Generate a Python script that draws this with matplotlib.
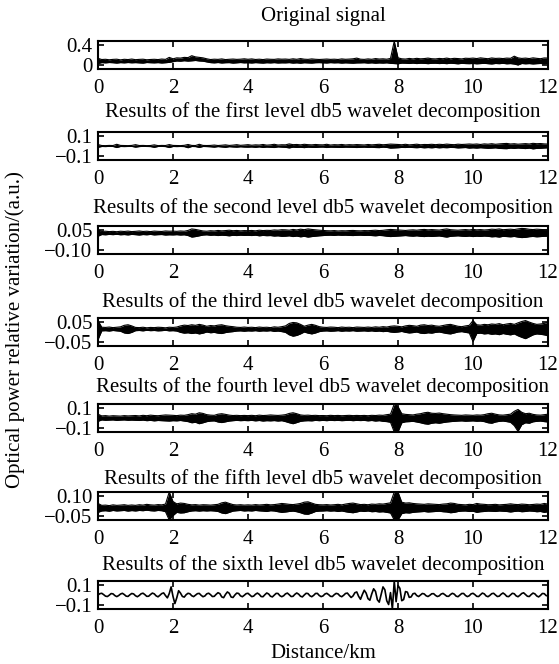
import numpy as np
import matplotlib.pyplot as plt

plt.rcParams['font.family'] = ['Liberation Serif', 'DejaVu Serif']

# distance axis (km)
dist_coarse = np.linspace(0, 12, 121)   # 0.1 km step
dist_fine = np.linspace(0, 12, 241)     # 0.05 km step

titles = ['Original signal',
          'Results of the first level db5 wavelet decomposition',
          'Results of the second level db5 wavelet decomposition',
          'Results of the third level db5 wavelet decomposition',
          'Results of the fourth level db5 wavelet decomposition',
          'Results of the fifth level db5 wavelet decomposition',
          'Results of the sixth level db5 wavelet decomposition']

ytick_vals = [[0, 0.4], [-0.1, 0.1], [-0.10, 0.05], [-0.05, 0.05],
              [-0.1, 0.1], [-0.05, 0.10], [-0.1, 0.1]]
ytick_labels = [['0', '0.4'], ['\u22120.1', '0.1'], ['\u22120.10', '0.05'],
                ['\u22120.05', '0.05'], ['\u22120.1', '0.1'],
                ['\u22120.05', '0.10'], ['\u22120.1', '0.1']]
ylims = [(-0.094, 0.494), (-0.147, 0.147), (-0.135, 0.085), (-0.0735, 0.0735),
         (-0.147, 0.147), (-0.085, 0.135), (-0.147, 0.147)]

# noisy traces read as upper / lower envelope every 0.1 km (units of 0.001)
orig_hi = [130, 105, 110, 100, 108, 112, 98, 110, 104, 115,
           102, 108, 112, 100, 106, 110, 104, 115, 108, 150,
           120, 140, 135, 150, 145, 185, 160, 150, 140, 120,
           105, 112, 108, 118, 104, 110, 115, 108, 112, 120,
           110, 118, 106, 112, 104, 115, 110, 108, 118, 112,
           115, 108, 120, 110, 125, 112, 108, 118, 110, 106,
           110, 115, 108, 112, 106, 118, 110, 114, 120, 135,
           112, 108, 118, 110, 125, 115, 120, 112, 128, 490,
           140, 120, 115, 128, 118, 130, 120, 125, 135, 122,
           118, 128, 122, 135, 120, 130, 125, 118, 132, 128,
           135, 125, 140, 130, 122, 138, 128, 132, 125, 135,
           130, 175, 140, 128, 135, 125, 140, 130, 122, 138,
           135]
orig_lo = [20, 40, 35, 42, 38, 30, 40, 35, 42, 36,
           40, 35, 30, 42, 38, 35, 40, 32, 38, 45,
           60, 75, 70, 80, 72, 78, 85, 75, 70, 55,
           40, 35, 42, 32, 38, 40, 30, 36, 42, 35,
           38, 32, 40, 35, 30, 38, 34, 40, 32, 36,
           35, 40, 30, 36, 28, 38, 34, 30, 38, 40,
           36, 32, 40, 35, 38, 30, 36, 32, 28, 34,
           35, 38, 30, 36, 28, 34, 30, 36, 25, 20,
           15, 30, 28, 22, 30, 20, 28, 25, 18, 26,
           28, 20, 25, 18, 28, 22, 15, 25, 20, 18,
           22, 15, 20, 25, 18, 12, 22, 18, 25, 15,
           20, 10, -10, 22, 15, 20, 12, 18, 22, 15,
           25]

lev1_hi = [15, 5, 4, 6, 5, 18, 6, 5, 4, 6,
           14, 5, 6, 4, 5, 12, 4, 6, 5, 15,
           6, 5, 4, 7, 16, 6, 5, 18, 6, 5,
           6, 10, 5, 8, 12, 6, 9, 14, 7, 10,
           14, 8, 12, 10, 16, 9, 12, 18, 10, 13,
           12, 22, 14, 16, 12, 18, 14, 12, 16, 13,
           12, 18, 10, 14, 12, 16, 11, 14, 12, 15,
           13, 11, 16, 12, 15, 18, 13, 16, 20, 18,
           16, 13, 18, 12, 15, 19, 13, 16, 15, 18,
           14, 18, 15, 20, 16, 14, 19, 16, 18, 21,
           18, 21, 16, 22, 19, 24, 18, 22, 25, 27,
           21, 24, 19, 22, 25, 21, 28, 24, 26, 22,
           20]
lev1_lo = [-14, -5, -6, -4, -5, -16, -5, -6, -5, -4,
           -12, -6, -4, -5, -6, -14, -5, -4, -6, -16,
           -5, -6, -5, -6, -18, -5, -6, -15, -5, -6,
           -8, -12, -6, -10, -14, -7, -10, -12, -8, -11,
           -12, -10, -14, -9, -15, -11, -13, -16, -9, -12,
           -14, -20, -12, -15, -13, -17, -12, -14, -15, -12,
           -11, -16, -12, -13, -14, -15, -12, -13, -14, -16,
           -14, -12, -15, -13, -16, -17, -12, -15, -22, -20,
           -18, -15, -16, -13, -16, -18, -15, -19, -16, -19,
           -15, -19, -16, -18, -15, -16, -20, -18, -16, -22,
           -19, -22, -18, -21, -24, -22, -19, -25, -27, -28,
           -22, -25, -21, -24, -27, -22, -30, -25, -24, -21,
           -19]

lev2_hi = [55, 42, 44, 41, 43, 40, 44, 42, 45, 41,
           43, 46, 42, 44, 41, 45, 43, 42, 46, 44,
           45, 43, 46, 44, 50, 62, 58, 52, 46, 44,
           48, 46, 50, 47, 49, 52, 48, 50, 47, 49,
           48, 50, 47, 52, 49, 51, 50, 54, 52, 56,
           55, 52, 58, 54, 60, 56, 62, 58, 55, 52,
           50, 48, 47, 49, 46, 48, 47, 49, 50, 48,
           47, 49, 48, 50, 52, 49, 51, 55, 58, 56,
           54, 52, 50, 53, 55, 52, 56, 58, 55, 57,
           55, 53, 58, 62, 56, 54, 52, 55, 57, 54,
           58, 55, 57, 54, 56, 60, 58, 62, 56, 58,
           60, 57, 62, 66, 64, 59, 57, 60, 58, 56,
           55]
lev2_lo = [5, 18, 16, 19, 17, 20, 16, 18, 15, 19,
           17, 14, 18, 16, 19, 15, 17, 18, 14, 16,
           15, 17, 14, 16, 10, -2, 2, 8, 14, 16,
           12, 14, 10, 13, 11, 8, 12, 10, 13, 11,
           12, 10, 13, 8, 11, 9, 10, 6, 8, 4,
           5, 8, 2, 6, 0, 4, -2, 2, 5, 8,
           10, 12, 13, 11, 14, 12, 13, 11, 10, 12,
           13, 11, 12, 10, 8, 11, 9, 5, 2, 4,
           6, 8, 10, 7, 5, 8, 4, 2, 5, 3,
           5, 7, 2, -2, 4, 6, 8, 5, 3, 6,
           2, 5, 3, 6, 4, 0, 2, -2, 4, 2,
           0, 3, -2, -6, -4, 1, 3, 0, 2, 4,
           5]

lev3_hi = [60, 25, 24, 26, 23, 25, 27, 35, 38, 32,
           24, 23, 25, 22, 24, 23, 25, 24, 22, 25,
           24, 26, 32, 36, 34, 38, 35, 40, 36, 30,
           34, 32, 36, 38, 33, 30, 28, 25, 24, 26,
           24, 25, 23, 26, 24, 25, 23, 27, 25, 28,
           32, 45, 50, 48, 40, 30, 36, 40, 35, 28,
           25, 24, 26, 25, 23, 26, 24, 25, 23, 26,
           25, 24, 26, 24, 27, 25, 28, 26, 30, 32,
           30, 27, 32, 35, 33, 30, 36, 38, 34, 36,
           32, 30, 34, 38, 40, 35, 30, 28, 32, 35,
           60, 38, 36, 40, 38, 42, 40, 44, 38, 42,
           45, 40, 48, 55, 60, 52, 45, 40, 42, 45,
           50]
lev3_lo = [-40, 6, 7, 5, 8, 6, 4, -5, -8, -2,
           7, 8, 6, 9, 7, 8, 6, 7, 9, 6,
           7, 5, -2, -6, -4, -8, -5, -10, -6, 0,
           -4, -2, -6, -8, -3, 0, 2, 5, 6, 4,
           6, 5, 7, 4, 6, 5, 7, 3, 5, 2,
           -2, -15, -22, -18, -10, 0, -6, -10, -5, 2,
           5, 6, 4, 5, 7, 4, 6, 5, 7, 4,
           5, 6, 4, 6, 3, 5, 2, 4, 0, -2,
           0, 3, -2, -5, -3, 0, -6, -8, -4, -6,
           -2, 0, -4, -8, -10, -5, 0, 2, -2, -5,
           -50, -8, -6, -10, -8, -12, -10, -14, -8, -12,
           -15, -10, -20, -28, -35, -25, -15, -10, -12, -15,
           -20]

lev4_hi = [40, 22, 25, 20, 24, 22, 20, 25, 22, 24,
           26, 22, 28, 24, 30, 26, 24, 28, 32, 30,
           28, 25, 30, 28, 35, 45, 40, 55, 48, 35,
           30, 28, 40, 45, 38, 30, 26, 28, 25, 27,
           25, 28, 24, 30, 26, 28, 32, 29, 27, 30,
           35, 48, 55, 45, 32, 28, 30, 26, 28, 25,
           26, 24, 28, 25, 27, 24, 26, 28, 25, 27,
           25, 27, 24, 28, 26, 30, 28, 35, 40, 147,
           120, 45, 38, 35, 32, 40, 45, 55, 60, 50,
           48, 52, 45, 40, 35, 32, 30, 28, 32, 30,
           28, 32, 30, 35, 45, 50, 40, 32, 30, 35,
           40, 70, 90, 60, 45, 50, 38, 32, 30, 35,
           40]
lev4_lo = [-35, -20, -24, -22, -20, -25, -22, -20, -24, -22,
           -24, -26, -22, -28, -25, -30, -26, -28, -30, -32,
           -28, -30, -26, -32, -38, -50, -45, -60, -50, -38,
           -32, -30, -42, -48, -40, -32, -28, -25, -28, -26,
           -28, -25, -30, -26, -32, -28, -30, -27, -32, -28,
           -38, -50, -60, -48, -35, -30, -28, -30, -25, -28,
           -25, -28, -24, -27, -25, -28, -26, -24, -28, -25,
           -27, -25, -30, -26, -32, -28, -35, -38, -45, -147,
           -147, -50, -40, -38, -35, -42, -50, -60, -65, -55,
           -50, -55, -48, -42, -38, -35, -32, -30, -34, -32,
           -30, -34, -32, -38, -50, -55, -42, -35, -32, -38,
           -45, -80, -140, -70, -50, -55, -40, -35, -32, -38,
           -42]

lev5_hi = [45, 30, 32, 28, 34, 30, 32, 35, 30, 33,
           30, 35, 32, 38, 34, 32, 36, 34, 40, 135,
           60, 42, 48, 45, 38, 34, 36, 32, 35, 34,
           32, 35, 38, 50, 55, 45, 36, 33, 35, 32,
           34, 32, 36, 33, 35, 38, 34, 36, 40, 45,
           42, 38, 36, 40, 45, 55, 58, 48, 38, 35,
           34, 36, 33, 35, 38, 34, 40, 45, 48, 42,
           36, 38, 35, 40, 38, 42, 40, 45, 50, 135,
           135, 55, 48, 50, 45, 42, 40, 38, 42, 40,
           38, 36, 40, 42, 48, 45, 38, 36, 34, 38,
           36, 45, 40, 38, 35, 36, 38, 34, 36, 38,
           42, 38, 36, 40, 38, 35, 37, 40, 38, 45,
           40]
lev5_lo = [-25, -14, -12, -16, -10, -14, -12, -10, -15, -11,
           -14, -10, -12, -8, -12, -14, -10, -12, -20, -85,
           -50, -25, -30, -28, -20, -14, -12, -15, -12, -14,
           -12, -14, -18, -30, -35, -25, -15, -12, -10, -14,
           -12, -14, -10, -13, -15, -18, -12, -14, -20, -25,
           -22, -18, -15, -20, -28, -38, -40, -30, -18, -15,
           -14, -12, -15, -13, -18, -14, -20, -25, -28, -22,
           -15, -18, -14, -20, -18, -22, -20, -25, -30, -85,
           -85, -35, -28, -30, -25, -22, -20, -18, -22, -20,
           -18, -16, -20, -22, -28, -25, -18, -15, -14, -18,
           -16, -25, -20, -18, -15, -16, -18, -14, -16, -18,
           -22, -18, -15, -20, -18, -14, -16, -20, -18, -25,
           -20]

# sixth level is a smooth trace, read every 0.05 km (units of 0.001)
lev6 = [0, 14, 18, 4, -12, -16, -2, 15, 12, -6, -17, -6, 10, 18, 5, -12, -15, 2, 16, 11,
        -8, -18, -5, 13, 19, 4, -14, -13, 5, 20, 12, -9, -19, -3, 15, 22, -6, -30, 15, 85,
        -15, -90, -30, 45, 20, -15, -22, 3, 18, 13, -8, -17, -2, 14, 17, -3, -18, -10, 12, 19,
        4, -16, -14, 7, 24, 14, -20, -28, 6, 32, 18, -21, -26, 0, 20, 16, -9, -18, -3, 14,
        18, 0, -17, -12, 8, 20, 7, -16, -18, 3, 21, 11, -13, -20, -1, 17, 16, -7, -18, -8,
        12, 20, 3, -16, -14, 7, 21, 9, -13, -20, 0, 18, 15, -8, -18, -4, 16, 17, -5, -17,
        -10, 10, 18, 4, -14, -16, 3, 17, 12, -9, -18, -3, 16, 20, -4, -26, -10, 24, 32, -14,
        -45, 6, 50, 20, -38, -55, 12, 65, 38, -50, -75, 6, 85, 55, -60, -100, 25, -147, 147, -70,
        100, 70, -60, -48, 36, 30, -25, -20, 13, 18, -6, -16, 0, 16, 11, -8, -16, -3, 13, 14,
        -4, -16, -9, 10, 17, 3, -13, -14, 5, 18, 9, -12, -18, -1, 16, 16, -5, -17, -8, 12,
        18, 4, -14, -16, 3, 20, 12, -10, -18, -4, 14, 18, 0, -16, -12, 8, 21, 7, -14, -17,
        0, 18, 13, -9, -18, -3, 16, 23, 5, -13, -16, 4, 20, 12, -10, -20, -4, 16, 14, -6,
        -10]

bands = [(orig_hi, orig_lo), (lev1_hi, lev1_lo), (lev2_hi, lev2_lo),
         (lev3_hi, lev3_lo), (lev4_hi, lev4_lo), (lev5_hi, lev5_lo)]

W, H = 559, 664
fig = plt.figure(figsize=(W / 100, H / 100), dpi=100)

box_tops = [41, 132, 226, 318, 404, 492, 581]
title_y = [17, 112, 208, 302, 387, 479, 565]
box_h = 28
left, right = 98, 548

for i in range(7):
    ax = fig.add_axes([left / W, 1 - (box_tops[i] + box_h) / H,
                       (right - left) / W, box_h / H])
    if i < 6:
        hi = np.array(bands[i][0]) / 1000
        lo = np.array(bands[i][1]) / 1000
        ax.fill_between(dist_coarse, lo, hi, color='black', lw=0)
        ax.plot(dist_coarse, hi, color='black', lw=0.8)
        ax.plot(dist_coarse, lo, color='black', lw=0.8)
    else:
        ax.plot(dist_fine, np.array(lev6) / 1000, color='black', lw=1.2)
    ax.set_xlim(0, 12)
    ax.set_ylim(*ylims[i])
    ax.set_xticks([0, 2, 4, 6, 8, 10, 12])
    ax.set_yticks(ytick_vals[i])
    ax.set_yticklabels(ytick_labels[i])
    ax.tick_params(direction='in', top=True, right=True, length=4,
                   width=1.2, labelsize=15)
    ax.tick_params(axis='x', pad=7)
    ax.tick_params(axis='y', pad=4)
    for s in ax.spines.values():
        s.set_linewidth(1.5)
    fig.text((left + right) / 2 / W, 1 - title_y[i] / H, titles[i],
             ha='center', va='center', fontsize=15)

fig.text((left + right) / 2 / W, 1 - 654 / H, 'Distance/km',
         ha='center', va='center', fontsize=15)
fig.text(15 / W, 1 - 330 / H, 'Optical power relative variation/(a.u.)',
         rotation=90, ha='center', va='center', fontsize=15)

fig.savefig('out.png', dpi=100)
